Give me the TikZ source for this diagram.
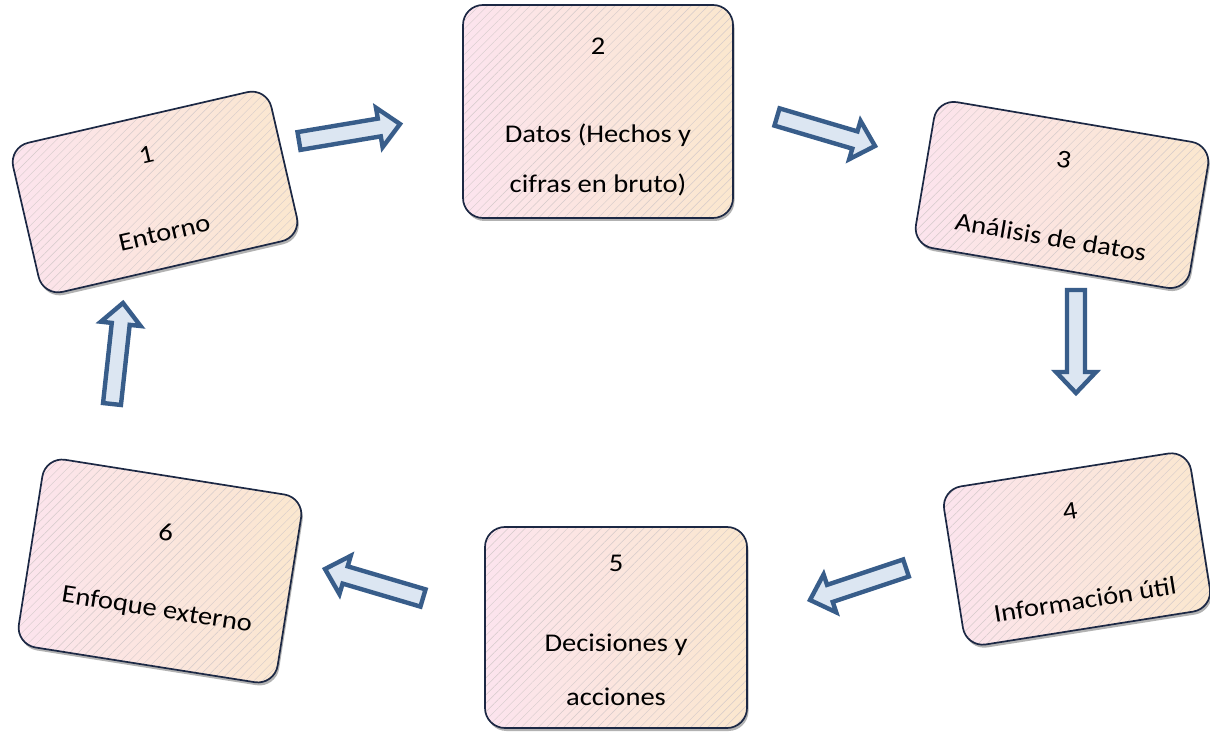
\documentclass[tikz,border=0pt]{standalone}
\usepackage{fontspec}
\setmainfont{Carlito}
\usetikzlibrary{calc,shadows,patterns.meta}

\definecolor{boxline}{RGB}{28,40,68}
\definecolor{pinkL}{RGB}{252,228,238}
\definecolor{peachR}{RGB}{251,231,206}
\definecolor{hatch}{RGB}{212,202,202}
\definecolor{arrline}{RGB}{56,93,138}
\definecolor{arrfill}{RGB}{220,230,242}

\tikzset{
  stage/.style={shade, left color=pinkL, right color=peachR, rounded corners=20pt,
    inner sep=0pt, transform shape,
    drop shadow={shadow xshift=1.5pt, shadow yshift=-3pt, fill=black!55, opacity=.55},
    postaction={pattern={Lines[angle=45,distance=6pt,line width=0.45pt]}, pattern color=hatch},
    postaction={draw=boxline, line width=1.7pt}},
  lbl/.style={font=\fontsize{25.5}{30}\selectfont, text=black, inner sep=0pt,
    anchor=base, transform shape, xscale=1.12},
  blockarrow/.style={draw=arrline, fill=arrfill, line width=4.4pt, line join=miter}
}

% outlined block arrow from #1 (tail) to #2 (tip)
\newcommand\blockarrow[2]{%
  \coordinate (#1#2-base) at ($(#2)!21pt!(#1)$);
  \draw[blockarrow] ($(#1)!9pt!90:(#2)$) -- ($(#1#2-base)!9pt!90:(#2)$)
    -- ($(#1#2-base)!20pt!90:(#2)$) -- (#2)
    -- ($(#1#2-base)!20pt!-90:(#2)$) -- ($(#1#2-base)!9pt!-90:(#2)$)
    -- ($(#1)!9pt!-90:(#2)$) -- cycle;}

\begin{document}
\begin{tikzpicture}[x=1pt, y=1pt]
\fill[white] (0,0) rectangle (1210,731);
\useasboundingbox (0,0) rectangle (1210,731);

% 1: Entorno
\begin{scope}[shift={(155,539)}, rotate=13]
  \node[stage, minimum width=265, minimum height=153] (s1) at (0,0) {};
  \node[lbl] (n1) at (0,30) {1};
  \node[lbl] (l1) at (0,-50) {Entorno};
\end{scope}

% 2: Datos
\begin{scope}[shift={(598,619.5)}]
  \node[stage, minimum width=270, minimum height=213] (s2) at (0,0) {};
  \node[lbl] (n2) at (0,56.5) {2};
  \node[lbl] (l2a) at (0,-31.5) {Datos (Hechos y};
  \node[lbl] (l2b) at (0,-81.5) {cifras en bruto)};
\end{scope}

% 3: Analisis de datos
\begin{scope}[shift={(1062,536)}, rotate=-9.6]
  \node[stage, minimum width=278, minimum height=148] (s3) at (0,0) {};
  \node[lbl] (n3) at (-4,27) {3};
  \node[lbl] (l3) at (-4,-52) {Análisis de datos};
\end{scope}

% 4: Informacion util
\begin{scope}[shift={(1077,182)}, rotate=9]
  \node[stage, minimum width=250, minimum height=160] (s4) at (0,0) {};
  \node[lbl] (n4) at (-1,30) {4};
  \node[lbl] (l4) at (0,-60) {Información útil};
\end{scope}

% 5: Decisiones y acciones
\begin{scope}[shift={(616,103.5)}]
  \node[stage, minimum width=262, minimum height=201] (s5) at (0,0) {};
  \node[lbl] (n5) at (0,55.5) {5};
  \node[lbl] (l5a) at (0,-24.5) {Decisiones y};
  \node[lbl] (l5b) at (0,-77.5) {acciones};
\end{scope}

% 6: Enfoque externo
\begin{scope}[shift={(160,160)}, rotate=-9]
  \node[stage, minimum width=262, minimum height=190] (s6) at (0,0) {};
  \node[lbl] (n6) at (0,31) {6};
  \node[lbl] (l6) at (3,-46) {Enfoque externo};
\end{scope}

% arrow end points
\coordinate (t12) at (299,590);  \coordinate (h12) at (400,607);
\coordinate (t23) at (777,614);  \coordinate (h23) at (875,585);
\coordinate (t34) at (1076,441); \coordinate (h34) at (1076,338);
\coordinate (t45) at (906,163);  \coordinate (h45) at (810,131);
\coordinate (t56) at (423,133);  \coordinate (h56) at (325,162);
\coordinate (t61) at (112,327);  \coordinate (h61) at (123,428);

\blockarrow{t12}{h12}
\blockarrow{t23}{h23}
\blockarrow{t34}{h34}
\blockarrow{t45}{h45}
\blockarrow{t56}{h56}
\blockarrow{t61}{h61}
\end{tikzpicture}
\end{document}
